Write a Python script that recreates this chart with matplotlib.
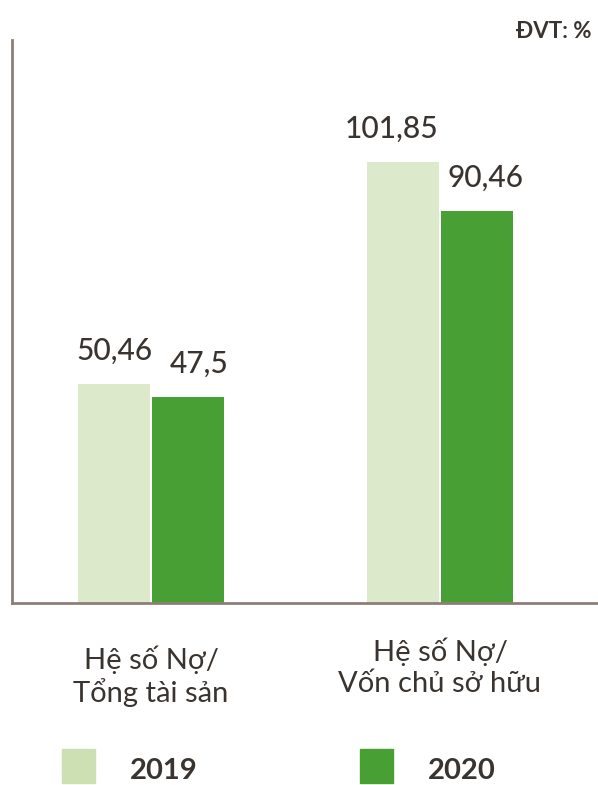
import matplotlib
matplotlib.use("Agg")
import matplotlib.pyplot as plt
from matplotlib.patches import Rectangle

FAM = ["Lato", "DejaVu Sans"]

categories = ["Hệ số Nợ/\nTổng tài sản", "Hệ số Nợ/\nVốn chủ sở hữu"]
series_names = ["2019", "2020"]
values_2019 = [50.46, 101.85]
values_2020 = [47.5, 90.46]
labels_2019 = ["50,46", "101,85"]
labels_2020 = ["47,5", "90,46"]
unit_text = "ĐVT: %"

c19 = "#dde9cb"
c19_leg = "#cde0b4"
c20 = "#48a034"
txt = "#3a3430"
spine = "#8c7f78"

fig = plt.figure(figsize=(5.98, 7.85), dpi=100)
W, H = 598, 785
ax = fig.add_axes([12 / W, 1 - 603 / H, 586 / W, 563 / H])

x = [0, 1]
w = 0.249
b1 = ax.bar([i - w / 2 - 0.0035 for i in x], values_2019, w, color=c19)
b2 = ax.bar([i + w / 2 + 0.0035 for i in x], values_2020, w, color=c20)
ax.set_xlim(-0.481, 0.547 + 1)
ax.set_ylim(0, 130)

for bars, labs, dx in ((b1, labels_2019, [0, -0.04]), (b2, labels_2020, [0.04, 0.03])):
    for r, lab, d in zip(bars, labs, dx):
        ax.annotate(lab, (r.get_x() + r.get_width() / 2 + d, r.get_height()),
                    xytext=(0, 14), textcoords="offset points", ha="center", va="bottom",
                    fontsize=21.5, fontweight="medium", color=txt, family=FAM)

for s in ("top", "right"):
    ax.spines[s].set_visible(False)
for s in ("left", "bottom"):
    ax.spines[s].set_color(spine)
    ax.spines[s].set_linewidth(2)
ax.set_xticks([])
ax.set_yticks([])

# category labels
ax.text(0, -0.13, categories[0], transform=ax.get_xaxis_transform(), ha="center", va="center",
        fontsize=21, color=txt, family=FAM, linespacing=1.2)
ax.text(1, -0.114, categories[1], transform=ax.get_xaxis_transform(), ha="center", va="center",
        fontsize=21, color=txt, family=FAM, linespacing=1.2)

fig.text(592 / W, 1 - 32 / H, unit_text, ha="right", va="center", fontsize=16,
         fontweight="bold", color=txt, family=FAM)

# legend
for (lx, tx), name, col in zip(((62, 130), (360, 428)), series_names, (c19_leg, c20)):
    fig.patches.append(Rectangle((lx / W, 1 - 783 / H), 33 / W, 34 / H,
                                 transform=fig.transFigure, color=col))
    fig.text(tx / W, 1 - 771 / H, name, ha="left", va="center", fontsize=21,
             fontweight="bold", color=txt, family=FAM)

fig.savefig("out.png", dpi=100, facecolor="white")
